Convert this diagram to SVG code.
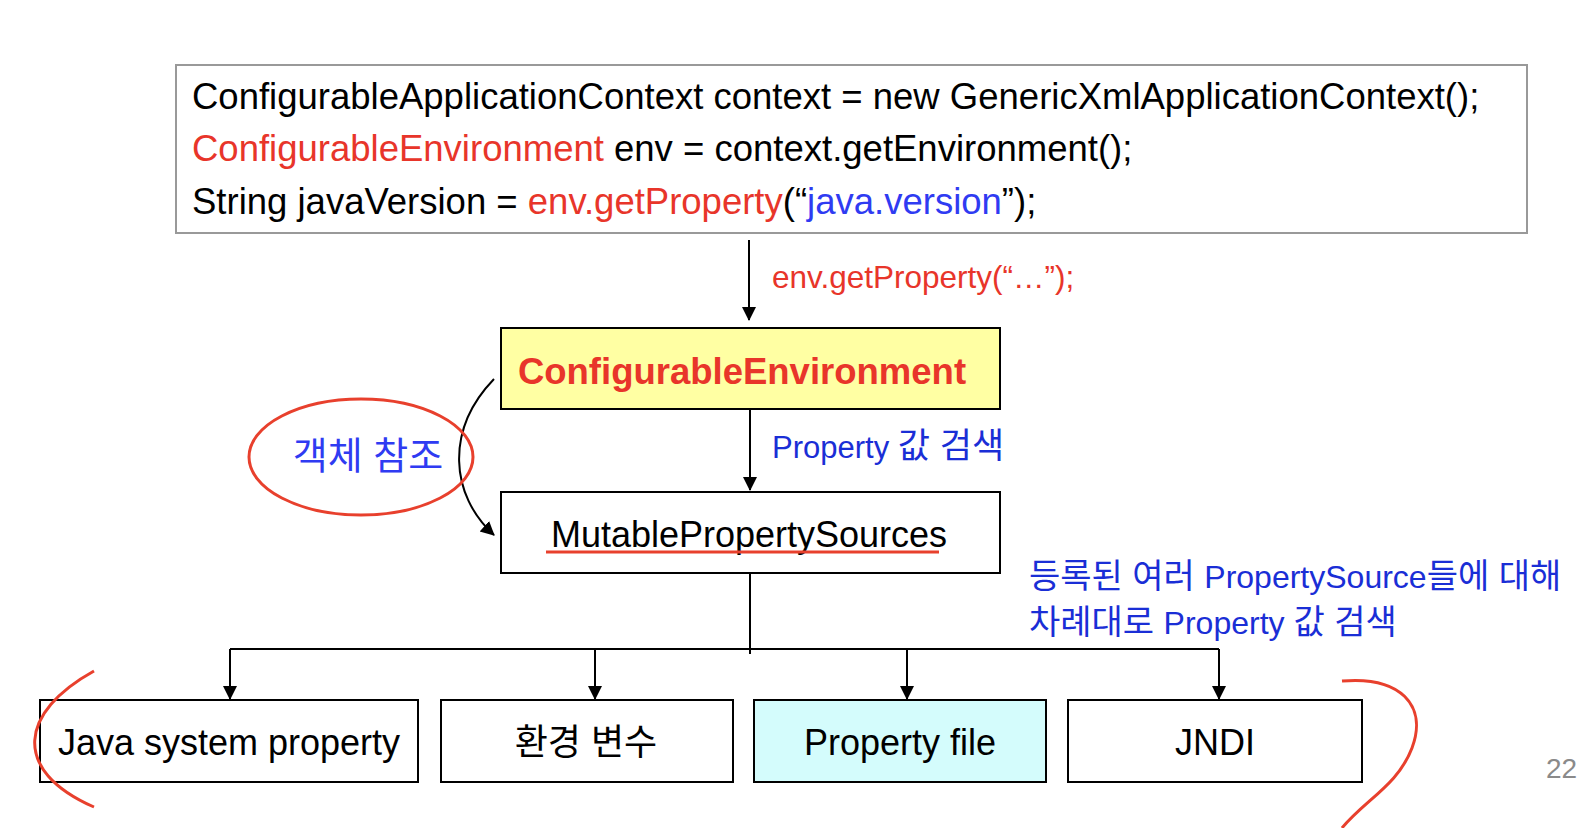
<svg xmlns="http://www.w3.org/2000/svg" width="1582" height="828" viewBox="0 0 1582 828">
<style>
.t{font-family:"Liberation Sans",Arial,"Noto Sans CJK KR",sans-serif;}
.code{font-size:36.5px;fill:#000;}
.red{fill:#E8352A;}
.blue{fill:#2F3BF2;}
.dblue{fill:#1A2ED6;}
.box{stroke:#000;stroke-width:2;}
.ln{stroke:#000;stroke-width:2;fill:none;}
.mark{stroke:#E8402D;stroke-width:3;fill:none;}
.lbl{font-size:36px;text-anchor:middle;fill:#000;}
</style>
<defs>
<marker id="ah" markerUnits="userSpaceOnUse" markerWidth="14" markerHeight="20" refX="13" refY="7" orient="auto" viewBox="0 0 14 14">
<path d="M0,0 L14,7 L0,14 z" fill="#000"/>
</marker>
</defs>
<rect width="1582" height="828" fill="#fff"/>

<g id="code">
<rect x="176" y="65" width="1351" height="168" fill="#fff" stroke="#999" stroke-width="2"/>
<text class="t code" x="192" y="109">ConfigurableApplicationContext context = new GenericXmlApplicationContext();</text>
<text class="t code" x="192" y="161"><tspan class="red">ConfigurableEnvironment</tspan> env = context.getEnvironment();</text>
<text class="t code" x="192" y="214">String javaVersion = <tspan class="red">env.getProperty</tspan>(“<tspan class="blue">java.version</tspan>”);</text>
</g>

<g id="connectors">
<line class="ln" x1="749" y1="240" x2="749" y2="320" marker-end="url(#ah)"/>
<line class="ln" x1="750" y1="410" x2="750" y2="490" marker-end="url(#ah)"/>
<path class="ln" d="M494 379 C 445 430, 450 495, 494 535" marker-end="url(#ah)"/>
<polyline class="ln" points="750,573 750,654"/>
<line class="ln" x1="230" y1="649" x2="1219" y2="649"/>
<line class="ln" x1="230" y1="649" x2="230" y2="699" marker-end="url(#ah)"/>
<line class="ln" x1="595" y1="649" x2="595" y2="699" marker-end="url(#ah)"/>
<line class="ln" x1="907" y1="649" x2="907" y2="699" marker-end="url(#ah)"/>
<line class="ln" x1="1219" y1="649" x2="1219" y2="699" marker-end="url(#ah)"/>
</g>

<g id="label-getProperty">
<text class="t red" x="772" y="288" font-size="31.5">env.getProperty(“…”);</text>
</g>
<g id="label-search">
<text class="t dblue" x="772" y="458" font-size="31">Property <tspan font-size="35">값 검색</tspan></text>
</g>

<g id="env">
<rect class="box" x="501" y="328" width="499" height="81" fill="#FFFFA3"/>
<text class="t red" x="742" y="384" font-size="36.5" font-weight="bold" text-anchor="middle">ConfigurableEnvironment</text>
</g>

<g id="mps">
<rect class="box" x="501" y="492" width="499" height="81" fill="#fff"/>
<text class="t" x="749" y="547" font-size="36" text-anchor="middle">MutablePropertySources</text>
<line x1="546" y1="552" x2="939" y2="552" stroke="#E8402D" stroke-width="3"/>
</g>

<g id="ref-note">
<ellipse class="mark" cx="361" cy="457" rx="112" ry="58"/>
<text class="t blue" x="368" y="469" font-size="38" text-anchor="middle">객체 참조</text>
</g>

<g id="order-note">
<text class="t dblue" x="1029" y="588" font-size="32"><tspan font-size="34">등록된 여러 </tspan>PropertySource<tspan font-size="34">들에 대해</tspan></text>
<text class="t dblue" x="1029" y="634" font-size="32"><tspan font-size="34">차례대로 </tspan>Property <tspan font-size="34">값 검색</tspan></text>
</g>

<g id="src-java">
<rect class="box" x="40" y="700" width="378" height="82" fill="#fff"/>
<text class="t lbl" x="229" y="755">Java system property</text>
</g>
<g id="src-env">
<rect class="box" x="441" y="700" width="292" height="82" fill="#fff"/>
<text class="t lbl" x="586" y="755" font-size="40">환경 변수</text>
</g>
<g id="src-file">
<rect class="box" x="754" y="700" width="292" height="82" fill="#D4FCFC"/>
<text class="t lbl" x="900" y="755">Property file</text>
</g>
<g id="src-jndi">
<rect class="box" x="1068" y="700" width="294" height="82" fill="#fff"/>
<text class="t lbl" x="1215" y="755">JNDI</text>
</g>

<g id="brackets">
<path class="mark" d="M94 671 C 20 712, 10 770, 94 807"/>
<path class="mark" d="M1342 681 C 1400 676, 1428 705, 1412 748 C 1398 785, 1365 800, 1342 828"/>
</g>

<text class="t" x="1546" y="778" font-size="28" fill="#8a8a8a">22</text>
</svg>
